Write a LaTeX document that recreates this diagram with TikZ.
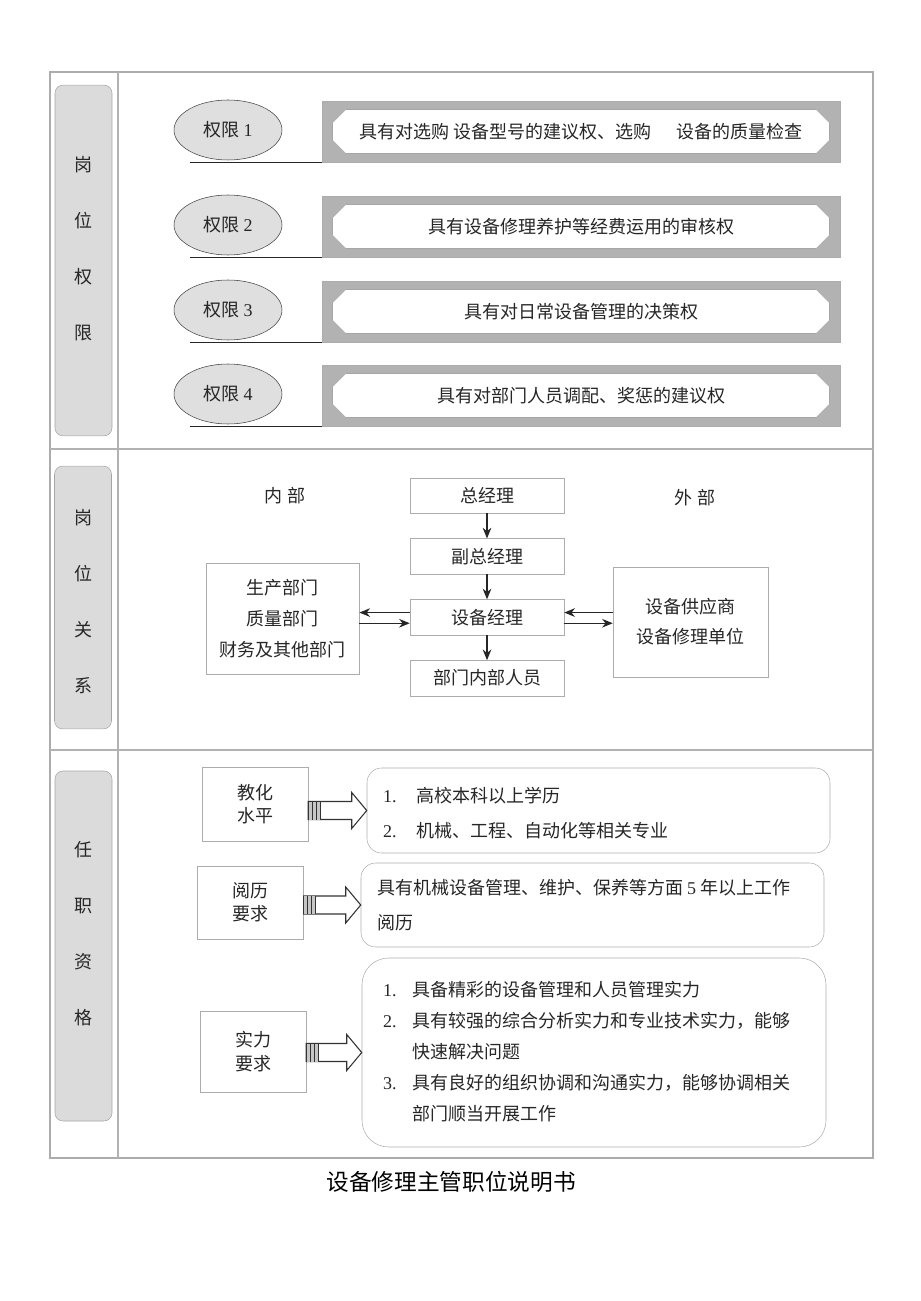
\documentclass[tikz,border=0pt]{standalone}
\usepackage{fontspec}
\setmainfont{Noto Sans CJK SC}
\newfontfamily\shuzi{Liberation Serif}
\usetikzlibrary{shapes.geometric,shapes.misc,arrows.meta,calc,positioning}

\begin{document}
\begin{tikzpicture}[x=0.75pt,y=-0.75pt,
    every node/.style={font=\fontsize{13.5}{16}\selectfont,text=black!85},
    biaoqian/.style={draw=gray!70,fill=gray!28,rounded corners=6pt,minimum width=42.75pt,minimum height=#1},
    shuzhi/.style={font=\fontsize{13.5}{42}\selectfont,align=center},
    kuang/.style={rectangle,draw=gray!65,fill=gray!60,minimum width=388.5pt,minimum height=45.75pt,inner sep=0},
    neikuang/.style={chamfered rectangle,chamfered rectangle xsep=9pt,draw=gray!70,fill=white,minimum width=372.75pt,minimum height=33pt,inner sep=0},
    tuoyuan/.style={ellipse,draw=gray!50!black,fill=gray!25,minimum width=81pt,minimum height=45pt,inner sep=0},
    kuang2/.style={draw=gray!65,minimum width=115.5pt,minimum height=26.5pt,inner sep=0},
    kuang3/.style={draw=gray!65,align=center,inner sep=0},
    kuang4/.style={draw=gray!65,align=center,minimum width=79.5pt,font=\fontsize{13.5}{17.5}\selectfont},
    yuanjiao/.style={draw=gray!65,rounded corners=11pt},
    jt/.style={-{Stealth[length=8pt,width=6.5pt]},black!85,line width=0.8pt},
    jiantou/.style={draw=black!80,fill=white,line width=0.8pt}]
    %colores
    \useasboundingbox (0,0) rectangle (920,1301);

    % tabla
    \draw[line width=1.6pt,gray!65] (50,72) rectangle (873,1158);
    \draw[line width=0.8pt,gray!60] (118,72) -- (118,1158) (50,449) -- (873,449) (50,750) -- (873,750);

    % titulos izquierda
    \node[biaoqian=263pt] (bq1) at (83.5,260.5) {};
    \node[shuzhi] (bt1) at (83.5,248.5) {岗\\位\\权\\限};
    \node[biaoqian=197pt] (bq2) at (83,597.5) {};
    \node[shuzhi] (bt2) at (83,602) {岗\\位\\关\\系};
    \node[biaoqian=262.5pt] (bq3) at (83.5,946) {};
    \node[shuzhi] (bt3) at (83.5,934) {任\\职\\资\\格};

    % Bloque 1
    \foreach \i/\y/\txt in {1/131.5/{具有对选购\ 设备型号的建议权、选购\hspace{1.4em}设备的质量检查},
                            2/226.5/{具有设备修理养护等经费运用的审核权},
                            3/311.5/{具有对日常设备管理的决策权},
                            4/395.5/{具有对部门人员调配、奖惩的建议权}}{
        \node[kuang] (k\i) at (581,\y) {};
        \node[neikuang] (n\i) at (k\i) {\txt};
        \node[tuoyuan] (q\i) at (228,\y-1.5) {权限 {\shuzi\i}};
        \draw[gray!30!black,line width=0.8pt] (k\i.south west) -- ++(-132,0);
    }

    % Bloque 2
    \node (nb) at (285,496) {内\ 部};
    \node (wb) at (695,498) {外\ 部};
    \node[kuang2] (zjl) at (487,495.5) {总经理};
    \node[kuang2,below=18.75pt of zjl] (fzjl) {副总经理};
    \node[kuang2,below=18.75pt of fzjl] (sbjl) {设备经理};
    \node[kuang2,below=18.75pt of sbjl] (nbry) {部门内部人员};
    \node[kuang3,minimum width=115pt,minimum height=83.25pt,font=\fontsize{13.5}{23.25}\selectfont] (nbbm) at (282.5,618.5) {生产部门\\质量部门\\财务及其他部门};
    \node[kuang3,minimum width=116.25pt,minimum height=82.5pt,font=\fontsize{13.5}{22.5}\selectfont] (wbdw) at (690.5,622) {设备供应商\\设备修理单位};
    \draw[jt] (zjl) -- (fzjl);
    \draw[jt] (fzjl) -- (sbjl);
    \draw[jt] (sbjl) -- (nbry);
    \coordinate (a1) at ([yshift=3.5pt]sbjl.west);
    \coordinate (a2) at ([yshift=-4.5pt]sbjl.west);
    \coordinate (a3) at ([yshift=3.5pt]sbjl.east);
    \coordinate (a4) at ([yshift=-4.5pt]sbjl.east);
    \draw[jt] (a1) -- (a1 -| nbbm.east);
    \draw[jt] (a2 -| nbbm.east) -- (a2);
    \draw[jt] (a3 -| wbdw.west) -- (a3);
    \draw[jt] (a4) -- (a4 -| wbdw.west);

    % Bloque 3
    \node[kuang4,minimum height=55.5pt] (jh) at (255,804) {教化\\水平};
    \node[kuang4,minimum height=54.75pt] (yl) at (250.5,902.5) {阅历\\要求};
    \node[kuang4,minimum height=60.75pt] (sl) at (253,1051.5) {实力\\要求};
    \node[yuanjiao,minimum width=347.25pt,minimum height=63.75pt] (j1) at (598.5,810.5) {};
    \node[yuanjiao,minimum width=347.25pt,minimum height=63pt] (j2) at (592.5,905) {};
    \node[yuanjiao,rounded corners=20pt,minimum width=348pt,minimum height=141.75pt] (j3) at (594,1052.5) {};
    \renewcommand{\arraystretch}{1.64}
    \node[anchor=west,inner sep=0] (w1) at ([xshift=12pt,yshift=-2pt]j1.west) {\begin{tabular}{@{}p{24.75pt}@{}l@{}}
        {\shuzi 1.} & 高校本科以上学历\\
        {\shuzi 2.} & 机械、工程、自动化等相关专业
    \end{tabular}};
    \node[anchor=west,inner sep=0] (w2) at ([xshift=12pt]j2.west) {\begin{tabular}{@{}l@{}}
        具有机械设备管理、维护、保养等方面 {\shuzi 5} 年以上工作\\
        阅历
    \end{tabular}};
    \node[anchor=west,inner sep=0] (w3) at ([xshift=15.75pt]j3.west) {\renewcommand{\arraystretch}{1.45}\begin{tabular}{@{}p{21.75pt}@{}l@{}}
        {\shuzi 1.} & 具备精彩的设备管理和人员管理实力\\
        {\shuzi 2.} & 具有较强的综合分析实力和专业技术实力，能够\\
                    & 快速解决问题\\
        {\shuzi 3.} & 具有良好的组织协调和沟通实力，能够协调相关\\
                    & 部门顺当开展工作
    \end{tabular}};

    % flechas
    \foreach \a/\b in {jh/j1,yl/j2,sl/j3}{
        \coordinate (s) at (\a.east |- \b.west);
        \coordinate (e) at (\b.west);
        \draw[jiantou] ($(s)+(0,-9)$) -- ($(e)+(-15,-9)$) -- ($(e)+(-15,-18)$) -- (e)
            -- ($(e)+(-15,18)$) -- ($(e)+(-15,9)$) -- ($(s)+(0,9)$) -- cycle;
        \fill[gray!45] ($(s)+(0,-9)$) rectangle ($(s)+(12,9)$);
        \foreach \d in {0,4,8,12}
            \draw[black!80,line width=0.8pt] ($(s)+(\d,-9)$) -- ($(s)+(\d,9)$);
    }

    \node[font=\fontsize{17}{20}\selectfont,text=black] (biaoti) at (451,1182) {设备修理主管职位说明书};
\end{tikzpicture}
\end{document}
